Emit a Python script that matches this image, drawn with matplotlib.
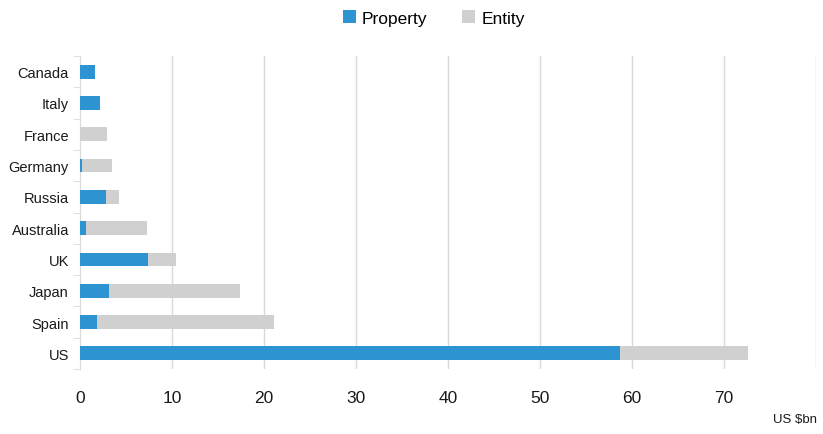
import matplotlib
matplotlib.use("Agg")
import matplotlib.pyplot as plt

plt.rcParams['font.family'] = ['Liberation Sans', 'DejaVu Sans']

countries = ["US", "Spain", "Japan", "UK", "Australia", "Russia", "Germany", "France", "Italy", "Canada"]
property_vals = [58.7, 1.85, 3.2, 7.4, 0.65, 2.8, 0.2, 0.0, 2.2, 1.6]
entity_vals = [13.9, 19.25, 14.2, 3.0, 6.65, 1.4, 3.3, 2.9, 0.0, 0.0]
xticks = [0, 10, 20, 30, 40, 50, 60, 70]

blue = "#2e93d1"
grey = "#d0d0d0"

fig = plt.figure(figsize=(8.23, 4.35), dpi=100)
ax = fig.add_axes([80 / 823, 65 / 435, 736 / 823, 313 / 435])

y = list(range(len(countries)))
ax.barh(y, property_vals, height=0.44, color=blue, label="Property", zorder=3)
ax.barh(y, entity_vals, left=property_vals, height=0.44, color=grey, label="Entity", zorder=3)

ax.set_xlim(0, 80)
ax.set_ylim(-0.5, len(countries) - 0.5)
ax.set_xticks(xticks)
ax.set_xticklabels([str(t) for t in xticks], fontsize=12.5, color="#1a1a1a")
ax.set_yticks(y)
ax.set_yticklabels(countries, fontsize=10.5, color="#1a1a1a")
ax.set_yticks([i + 0.5 for i in range(-1, len(countries))], minor=True)

for x in range(10, 81, 10):
    ax.axvline(x, color="#d9d9d9", lw=1, zorder=1)

for s in ["top", "right", "bottom"]:
    ax.spines[s].set_visible(False)
ax.spines["left"].set_color("#d9d9d9")
ax.tick_params(axis="x", length=0, pad=15)
ax.tick_params(axis="y", which="major", length=0, pad=8)
ax.tick_params(axis="y", which="minor", length=5, color="#d9d9d9")

fig.text(817 / 823, 15 / 435, "US $bn", ha="right", va="center", fontsize=9.5, color="#1a1a1a")

fig.legend(loc="upper center", bbox_to_anchor=(0.527, 1.01), ncol=2, frameon=False,
           fontsize=12.5, handlelength=0.75, handleheight=0.75, handletextpad=0.35, columnspacing=2.0)

fig.savefig("out.png", dpi=100)
